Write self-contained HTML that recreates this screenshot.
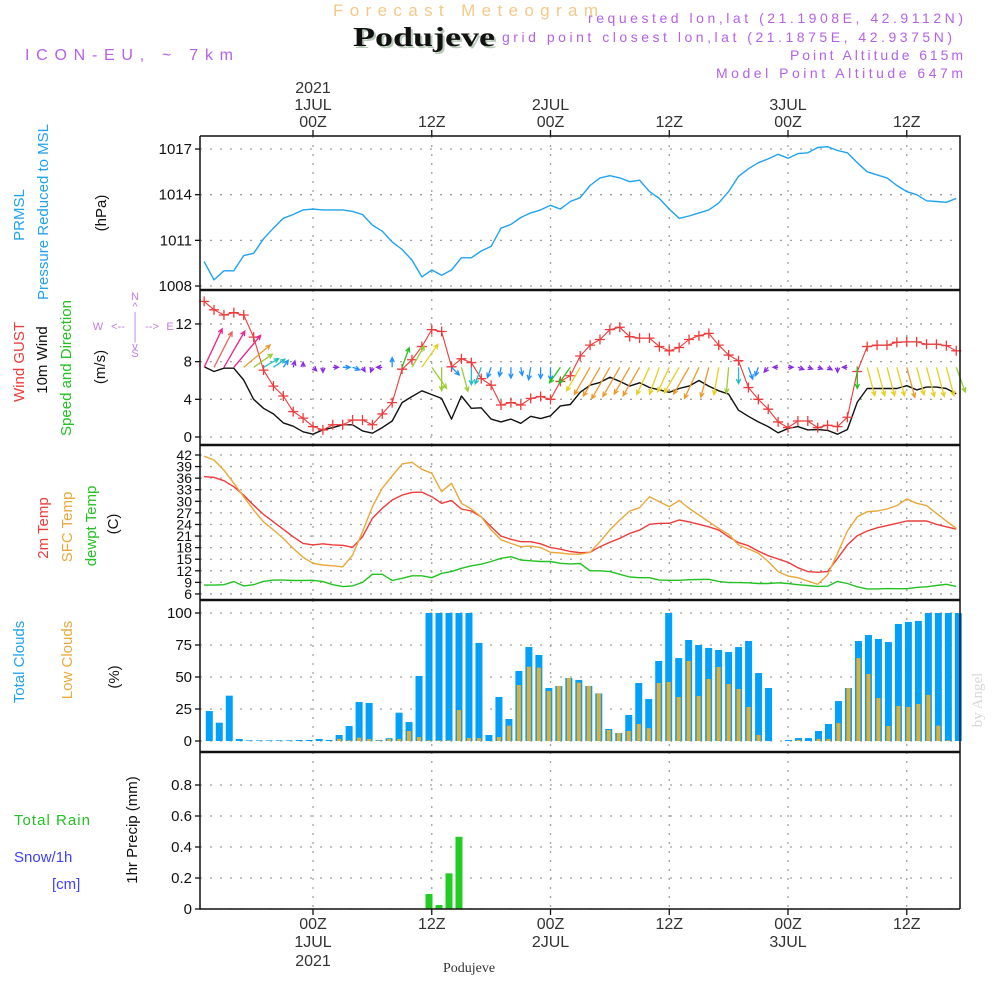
<!DOCTYPE html>
<html><head><meta charset="utf-8"><title>Meteogram Podujeve</title>
<style>
html,body{margin:0;padding:0;background:#fff;}
svg{display:block;font-family:"Liberation Sans",sans-serif;}
</style></head>
<body>
<svg id="chart" width="1000" height="1000" viewBox="0 0 1000 1000" xmlns="http://www.w3.org/2000/svg">
<rect width="1000" height="1000" fill="#fff"/>
<text x="333" y="16" font-size="17" fill="#f3c98a" textLength="265" lengthAdjust="spacing">Forecast Meteogram</text>
<text x="355" y="48" font-family="Liberation Serif, serif" font-weight="bold" font-size="27" fill="#b9c9b9" textLength="142" lengthAdjust="spacingAndGlyphs">Podujeve</text>
<text x="353" y="46" font-family="Liberation Serif, serif" font-weight="bold" font-size="27" fill="#111" textLength="142" lengthAdjust="spacingAndGlyphs">Podujeve</text>
<text x="25" y="60" font-size="16" fill="#b561e8" textLength="208">ICON-EU, ~ 7km</text>
<g fill="#b561e8" font-size="14" text-anchor="end">
<text x="963" y="23" textLength="375">requested lon,lat (21.1908E, 42.9112N)</text>
<text x="952" y="42" textLength="450">grid point closest lon,lat (21.1875E, 42.9375N)</text>
<text x="963" y="60" textLength="173">Point Altitude 615m</text>
<text x="963" y="78" textLength="247">Model Point Altitude 647m</text>
</g>
<g font-size="15">
<text transform="translate(24,215) rotate(-90)" text-anchor="middle" fill="#1fa3ef">PRMSL</text>
<text transform="translate(48,212) rotate(-90)" text-anchor="middle" fill="#1fa3ef">Pressure Reduced to MSL</text>
<text transform="translate(106,213) rotate(-90)" text-anchor="middle" fill="#111">(hPa)</text>
<text transform="translate(24,362) rotate(-90)" text-anchor="middle" fill="#ee3b3b">Wind GUST</text>
<text transform="translate(47,360) rotate(-90)" text-anchor="middle" fill="#111">10m Wind</text>
<text transform="translate(71,368) rotate(-90)" text-anchor="middle" fill="#22c222">Speed and Direction</text>
<text transform="translate(105,367) rotate(-90)" text-anchor="middle" fill="#111">(m/s)</text>
<text transform="translate(48,528) rotate(-90)" text-anchor="middle" fill="#ee3b3b">2m Temp</text>
<text transform="translate(72,527) rotate(-90)" text-anchor="middle" fill="#eba83a">SFC Temp</text>
<text transform="translate(96,526) rotate(-90)" text-anchor="middle" fill="#22c222">dewpt Temp</text>
<text transform="translate(118,524) rotate(-90)" text-anchor="middle" fill="#111">(C)</text>
<text transform="translate(24,662) rotate(-90)" text-anchor="middle" fill="#1fa3ef">Total Clouds</text>
<text transform="translate(72,660) rotate(-90)" text-anchor="middle" fill="#eba83a">Low Clouds</text>
<text transform="translate(119,677) rotate(-90)" text-anchor="middle" fill="#111">(%)</text>
<text transform="translate(137,830) rotate(-90)" text-anchor="middle" fill="#111">1hr Precip (mm)</text>
<text x="14" y="825" fill="#22c222" textLength="76">Total  Rain</text>
<text x="14" y="862" fill="#4040ff">Snow/1h</text>
<text x="52" y="889" fill="#4040ff">[cm]</text>
</g>
<g fill="#c07de8" font-size="11" text-anchor="middle">
<text x="135" y="300">N</text><text x="135" y="310">^</text><text x="135" y="320">|</text>
<text x="98" y="330">W</text><text x="118" y="330">&lt;--</text><text x="135" y="330">|</text><text x="152" y="330">--&gt;</text><text x="170" y="330">E</text>
<text x="135" y="340">|</text><text x="135" y="350">v</text><text x="135" y="357">S</text>
</g>
<text transform="translate(982,700) rotate(-90)" text-anchor="middle" font-family="Liberation Serif, serif" font-size="15" fill="#d8d8d8">by Angel</text>
<text x="469" y="972" text-anchor="middle" font-family="Liberation Serif, serif" font-size="14" fill="#333">Podujeve</text>
<g id="grid"></g>
<g id="marks"></g>
<g id="frame"></g>
</svg>
<script>
const hours = [];
for (let h = -11; h <= 65; h++) hours.push(h);
const pressure = [1009.6,1008.4,1009.0,1009.0,1010.0,1010.15,1011.1,1011.8,1012.45,1012.7,1013.0,
1013.05,1013.0,1013.0,1013.0,1012.9,1012.7,1012.0,1011.6,1010.9,1010.4,1009.7,1008.6,1009.05,1008.7,1009.05,1009.85,1009.85,1010.3,1010.6,1011.8,1012.05,1012.5,1012.8,1013.0,1013.3,1013.05,1013.55,1013.8,1014.6,1015.1,1015.25,1015.1,1014.85,1014.95,1014.2,1013.75,1013.05,1012.45,1012.6,1012.8,1013.0,1013.45,1014.2,1015.2,1015.7,1016.1,1016.35,1016.65,1016.4,1016.7,1016.75,1017.1,1017.15,1016.9,1016.75,1016.1,1015.5,1015.3,1015.1,1014.6,1014.2,1014.0,1013.6,1013.55,1013.5,1013.75];
const windGust = [14.4,13.5,12.95,13.2,12.95,10.6,7.1,5.4,4.35,2.7,2.0,
1.1,0.75,1.3,1.3,1.8,1.8,1.3,2.45,3.65,7.2,8.2,9.6,11.4,11.2,7.45,8.3,7.9,6.2,5.5,3.4,3.65,3.4,4.1,4.3,4.0,5.9,6.5,8.6,9.75,
10.35,11.4,11.65,10.65,10.5,10.5,9.6,9.15,9.5,10.35,10.75,11.0,9.75,8.7,8.1,5.25,4.0,2.95,1.6,1.0,1.7,1.7,1.0,1.25,1.1,2.1,6.95,9.6,9.75,9.75,10.05,10.1,10.1,9.85,9.85,9.7,9.15];
const windSpeed = [7.45,6.95,7.3,7.3,6.05,4.0,3.05,2.45,1.5,1.15,0.55,
0.3,0.75,1.0,1.3,1.3,0.65,0.4,1.0,1.7,3.65,4.3,4.9,4.5,4.1,1.9,4.35,3.05,3.1,1.9,1.6,1.9,1.45,2.2,1.95,2.25,3.3,3.45,4.75,5.5,
5.8,6.35,5.9,5.4,5.75,5.25,5.0,4.75,5.15,5.4,6.0,5.4,4.9,4.55,2.85,2.2,1.6,1.1,0.45,0.9,1.1,0.75,0.8,0.7,0.3,0.8,3.7,5.15,5.15,5.15,5.15,5.45,5.0,5.3,5.3,5.15,4.6];
const windDir = [25,27,30,40,50,55,60,55,35,15,0,
135,180,90,90,110,150,200,270,0,20,30,35,145,180,135,165,180,200,200,190,180,170,190,180,180,215,215,210,210,
210,210,210,210,210,205,200,205,210,210,205,195,190,185,180,160,200,220,270,90,110,110,110,120,180,270,180,165,165,165,165,165,165,165,165,165,160];
const temp2m = [36.4,36.2,35.35,33.8,31.6,29.0,26.6,24.7,22.75,20.8,19.1,
18.7,19.0,18.7,18.6,18.1,20.8,25.6,28.2,30.35,31.6,32.3,32.4,31.2,29.5,30.2,28.0,27.5,26.0,23.4,21.0,20.15,19.55,19.55,19.0,18.0,17.6,17.0,16.7,16.8,
18.25,19.4,20.4,21.7,22.55,24.05,24.3,24.3,25.15,24.7,24.05,23.4,22.55,20.8,19.3,18.5,17.1,15.9,15.05,14.2,12.8,11.8,11.6,11.8,15.2,18.7,21.1,22.3,23.15,23.7,24.3,24.9,24.9,24.9,24.05,23.4,22.8];
const tempSfc = [41.7,40.7,38.1,34.7,31.2,27.75,24.7,22.6,20.4,17.8,15.5,
13.95,13.5,13.3,13.0,16.1,22.1,28.6,33.4,36.6,39.7,40.1,38.3,37.25,32.5,34.7,29.5,28.0,26.0,22.6,20.0,19.1,18.25,18.4,18.0,16.8,16.6,16.3,16.3,16.8,
19.55,22.6,25.15,27.5,28.35,31.2,29.9,28.6,30.2,28.2,26.45,24.7,23.0,21.45,18.7,17.65,16.55,14.4,11.8,10.65,10.2,9.35,8.5,10.9,16.55,22.3,26.0,27.3,27.5,28.0,28.9,30.6,29.5,28.9,26.9,24.9,23.0];
const dewpoint = [8.3,8.3,8.4,9.2,8.1,8.4,9.25,9.6,9.6,9.5,9.5,
9.55,9.2,8.4,7.9,8.1,9.0,11.1,11.1,9.5,10.05,10.7,10.7,10.2,11.35,11.8,12.65,13.3,13.7,14.4,15.25,15.65,14.8,14.6,14.4,14.4,13.95,13.8,13.9,12.0,
12.0,11.8,11.1,10.4,10.2,10.2,9.6,9.55,9.55,9.7,9.75,9.8,9.25,8.95,8.95,8.9,8.7,8.7,8.9,8.7,8.4,8.2,7.95,8.0,9.25,8.7,7.85,7.3,7.3,7.4,7.35,7.35,7.7,7.85,8.2,8.5,7.95];
const totalClouds = [23.4,14.3,35.4,1.6,0.5,0.5,0.5,0.5,0.5,0.8,0.8,1.6,0.8,4.7,11.7,30.5,29.7,0.8,2.2,22.1,14.8,50.8,100,100,100,100,100,76.6,4.7,34.4,17.2,54.7,73.4,67.2,41.4,43,49.2,
47.7,43,37.2,9.4,6.25,20.3,45.3,32.8,62.5,100,64.8,78.9,75,72.7,71.1,69.5,73.4,78.1,53.1,41.4,0,0.8,2.3,2.3,7.8,13.3,31.2,41.4,78.1,82.8,79.7,77.3,91.4,93,93.8,100,100,100,100];
const lowClouds = [0,0,0,0,0,0,0,0,0,0,0,0,0,1.6,0.5,2.6,1.6,0.5,1.6,1.6,7.8,3.1,0.5,0.5,0.5,24.2,2.3,2.3,0,3.1,12,43.75,58,57.3,39,43,49.2,
45.6,43,37.2,8.6,6.25,7.8,13.3,10,45.3,46.1,34.4,62.5,35.2,48.4,57.8,44.5,40.6,26.6,4.7,0,0,0,0.8,0,1.6,1.6,14,41.4,64.8,52.3,33.6,11.7,27.3,26.6,28.9,35.9,12,0.5,0];
const precip = [0,0,0,0,0,0,0,0,0,0,0,0,0,0,0,0,0,0,0,0,0,0,0.097,0.026,0.23,0.466,0,0,0,0,0,0,0,0,0,0,0,0,0,0,0,0,0,0,0,0,0,0,0,0,0,0,0,0,0,0,0,0,0,0,0,0,0,0,0,0,0,0,0,0,0,0,0,0,0,0];
const pressureTicks = [1008,1011,1014,1017];
const windTicks = [0,4,8,12];
const tempTicks = [6,9,12,15,18,21,24,27,30,33,36,39,42];
const cloudTicks = [0,25,50,75,100];
const precipTicks = ["0","0.2","0.4","0.6","0.8"];
const timeTickHours = [0,12,24,36,48,60];
const timeTickLabels = ["00Z","12Z","00Z","12Z","00Z","12Z"];
const dateLabels = ["1JUL","","2JUL","","3JUL",""];

const xT = h => 313 + 9.896 * h;
const xB = k => 209.3 + 9.987 * k;
const yP = p => 286 - (p - 1008) * 15.22;
const yW = v => 437 - v * 9.42;
const yT = t => 455 + (42 - t) * 3.86;
const yC = c => 741 - c * 1.28;
const yR = r => 909 - r * 155;

const NS = "http://www.w3.org/2000/svg";
function mk(parent, tag, attrs) {
  const e = document.createElementNS(NS, tag);
  for (const k in attrs) e.setAttribute(k, attrs[k]);
  parent.appendChild(e);
  return e;
}
const grid = document.getElementById('grid');
const marks = document.getElementById('marks');
const frame = document.getElementById('frame');
const L = 200, R = 960;
const panels = [[136,290],[290,445],[445,600],[600,752],[752,909]];

panels.forEach(([t,b]) => {
  timeTickHours.forEach(h => {
    const g = mk(grid, 'line', {x1: xT(h), x2: xT(h), y1: t, y2: b, stroke: '#a0a0a0', 'stroke-width': 1.3, 'stroke-dasharray': '2,7'});
    
    
  });
});
function hgrid(vals, yf, name) {
  vals.forEach(v => {
    const g = mk(grid, 'line', {x1: L, x2: R, y1: yf(v), y2: yf(v), stroke: '#a0a0a0', 'stroke-width': 1.3, 'stroke-dasharray': '2,8'});
    
    
  });
}
hgrid(pressureTicks, yP, 'pressure-gridline');
hgrid(windTicks, yW, 'wind-gridline');
hgrid(tempTicks, yT, 'temp-gridline');
hgrid(cloudTicks, yC, 'cloud-gridline');
hgrid(precipTicks.map(Number), yR, 'precip-gridline');

function yLabels(vals, yf, name, fs, dy) {
  vals.forEach(v => {
    const t = mk(frame, 'text', {x: 192, y: yf(Number(v)) + dy, 'text-anchor': 'end', 'font-size': fs, fill: '#111'});
    t.textContent = String(v);
    
    
    const tk = mk(frame, 'line', {x1: 195, x2: 200, y1: yf(Number(v)), y2: yf(Number(v)), stroke: '#111', 'stroke-width': 1.3});
    
    
  });
}
yLabels(pressureTicks, yP, 'pressure-tick', 15, 5);
yLabels(windTicks, yW, 'wind-tick', 15, 5);
yLabels(tempTicks, yT, 'temp-tick', 14, 5);
yLabels(cloudTicks, yC, 'cloud-tick', 15, 5);
yLabels(precipTicks, yR, 'precip-tick', 15, 5);

timeTickHours.forEach((h, i) => {
  const x = xT(h);
  const a = mk(frame, 'text', {x: x, y: 127, 'text-anchor': 'middle', 'font-size': 16, fill: '#333'});
  a.textContent = timeTickLabels[i];
  
  
  const b = mk(frame, 'text', {x: x, y: 929, 'text-anchor': 'middle', 'font-size': 16, fill: '#333'});
  b.textContent = timeTickLabels[i];
  
  
  if (dateLabels[i]) {
    const c = mk(frame, 'text', {x: x, y: 110, 'text-anchor': 'middle', 'font-size': 16, fill: '#333'});
    c.textContent = dateLabels[i];
    
    
    const d = mk(frame, 'text', {x: x, y: 947, 'text-anchor': 'middle', 'font-size': 16, fill: '#333'});
    d.textContent = dateLabels[i];
    
    
  }
  const tk = mk(frame, 'line', {x1: x, x2: x, y1: 130, y2: 136, stroke: '#111', 'stroke-width': 1.3});
  
  
  const tk2 = mk(frame, 'line', {x1: x, x2: x, y1: 909, y2: 915, stroke: '#111', 'stroke-width': 1.3});
  
  
});
const yr1 = mk(frame, 'text', {x: xT(0), y: 93, 'text-anchor': 'middle', 'font-size': 16, fill: '#333'});
yr1.textContent = '2021';


const yr2 = mk(frame, 'text', {x: xT(0), y: 966, 'text-anchor': 'middle', 'font-size': 16, fill: '#333'});
yr2.textContent = '2021';



function polyline(vals, yf, color, name, w) {
  const pts = vals.map((v, i) => xT(hours[i]).toFixed(1) + ',' + yf(v).toFixed(1)).join(' ');
  const p = mk(marks, 'polyline', {points: pts, fill: 'none', stroke: color, 'stroke-width': w || 1.4, 'stroke-linejoin': 'round'});
  
  
}
polyline(pressure, yP, '#1fa3ef', 'pressure-line');
polyline(windSpeed, yW, '#111', 'wind-speed-line');
polyline(windGust, yW, '#ee3b3b', 'wind-gust-line', 1.1);
windGust.forEach((v, i) => {
  const x = xT(hours[i]), y = yW(v);
  const c = mk(marks, 'path', {d: `M${x-5},${y}H${x+5}M${x},${y-5}V${y+5}`, stroke: '#ee3b3b', 'stroke-width': 1.3});
  
  
});
function speedColor(s) {
  if (s < 1.3) return '#8a2be2';
  if (s < 2.4) return '#1e90ff';
  if (s < 3.3) return '#20c0c0';
  if (s < 4.0) return '#22c222';
  if (s < 4.7) return '#9acd32';
  if (s < 5.4) return '#e5d020';
  if (s < 6.6) return '#eb9a2a';
  if (s < 7.2) return '#f0605a';
  return '#f0208a';
}
const baseY = yW(7.4);
windSpeed.forEach((s, i) => {
  const x0 = xT(hours[i]);
  const a = windDir[i] * Math.PI / 180;
  const len = Math.max(s * 5.7, 5);
  const x1 = x0 + Math.sin(a) * len, y1 = baseY - Math.cos(a) * len;
  const hl = 5, ha = 0.45;
  const back = a + Math.PI;
  const h1x = x1 + Math.sin(back + ha) * hl, h1y = y1 - Math.cos(back + ha) * hl;
  const h2x = x1 + Math.sin(back - ha) * hl, h2y = y1 - Math.cos(back - ha) * hl;
  const col = speedColor(s);
  const p = mk(marks, 'path', {d: `M${x0},${baseY}L${x1},${y1}M${h1x},${h1y}L${x1},${y1}L${h2x},${h2y}`, stroke: col, 'stroke-width': 1.3, fill: 'none'});
  
  
});
polyline(temp2m, yT, '#ee3b3b', 'temp-2m-line');
polyline(tempSfc, yT, '#eba83a', 'temp-sfc-line');
polyline(dewpoint, yT, '#22c222', 'dewpoint-line');
totalClouds.forEach((v, k) => {
  const x = xB(k);
  const r = mk(marks, 'rect', {x: x - 3.5, y: yC(v), width: 7, height: yC(0) - yC(v), fill: '#02a0f8'});
  
  
});
lowClouds.forEach((v, k) => {
  if (v <= 0) return;
  const x = xB(k);
  const r = mk(marks, 'rect', {x: x - 2, y: yC(v), width: 4, height: yC(0) - yC(v), fill: '#e8ac2c'});
  
  
});
precip.forEach((v, k) => {
  if (v <= 0) return;
  const x = xB(k);
  const r = mk(marks, 'rect', {x: x - 3.5, y: yR(v), width: 7, height: yR(0) - yR(v), fill: '#22cc22'});
  
  
});

const fr = mk(frame, 'path', {d: `M${L},136H${R}V909M${L},136V909H${R}`, stroke: '#111', 'stroke-width': 1.5, fill: 'none'});


const thick = mk(frame, 'path', {d: `M${L},290H${R}M${L},445H${R}M${L},600H${R}M${L},752H${R}`, stroke: '#111', 'stroke-width': 2.5, fill: 'none'});


</script>
</body></html>
